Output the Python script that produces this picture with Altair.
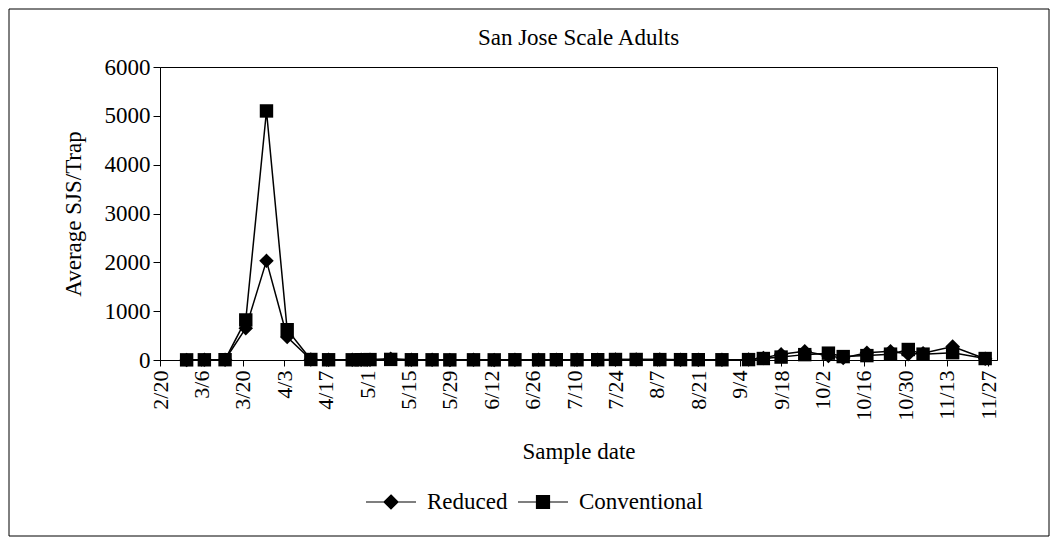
import altair as alt
import pandas as pd

# ---- data ----
sample_dates = ["3/1", "3/7", "3/14", "3/21", "3/28", "4/4", "4/12", "4/18", "4/26", "4/29",
                "5/2", "5/9", "5/16", "5/23", "5/29", "6/6", "6/13", "6/20", "6/28", "7/4",
                "7/11", "7/18", "7/24", "7/31", "8/8", "8/15", "8/21", "8/29", "9/7", "9/12",
                "9/18", "9/26", "10/4", "10/9", "10/17", "10/25", "10/31", "11/5", "11/15", "11/26"]
reduced = [2, 3, 5, 650, 2030, 470, 8, 4, 3, 5,
           6, 25, 4, 3, 2, 3, 2, 4, 3, 5,
           3, 4, 8, 12, 9, 6, 5, 4, 10, 40,
           120, 180, 80, 40, 150, 180, 120, 140, 275, 25]
conventional = [3, 4, 6, 820, 5100, 620, 10, 5, 4, 6,
                8, 12, 5, 4, 3, 4, 3, 5, 4, 6,
                5, 6, 10, 10, 8, 7, 6, 5, 8, 30,
                60, 110, 140, 70, 90, 120, 215, 120, 150, 30]
series_names = ["Reduced", "Conventional"]
x_tick_labels = ["2/20", "3/6", "3/20", "4/3", "4/17", "5/1", "5/15", "5/29", "6/12", "6/26",
                 "7/10", "7/24", "8/7", "8/21", "9/4", "9/18", "10/2", "10/16", "10/30",
                 "11/13", "11/27"]
y_ticks = [0, 1000, 2000, 3000, 4000, 5000, 6000]
YEAR = 2001
FONT = "Liberation Serif"


def iso(md):
    m, d = md.split("/")
    return f"{YEAR}-{int(m):02d}-{int(d):02d}"


def dt(md):
    m, d = md.split("/")
    return alt.DateTime(year=YEAR, month=int(m), date=int(d), utc=True)


rows = []
for name, vals in zip(series_names, [reduced, conventional]):
    for md, v in zip(sample_dates, vals):
        rows.append({"date": iso(md), "value": v, "series": name})
df = pd.DataFrame(rows)

x_enc = alt.X(
    "date:T",
    title="Sample date",
    scale=alt.Scale(type="utc", domain=[dt("2/20"), dt("11/30")], nice=False),
    axis=alt.Axis(
        values=[dt(t) for t in x_tick_labels],
        format="%-m/%-d",
        labelAngle=270,
        labelFont=FONT, labelFontSize=22, labelColor="black",
        tickSize=6, tickColor="black", domainColor="black",
        labelPadding=4, labelOverlap=False, grid=False,
        titleFont=FONT, titleFontSize=23, titleFontWeight="normal", titleColor="black",
        titlePadding=20,
    ),
)
y_enc = alt.Y(
    "value:Q",
    title="Average SJS/Trap",
    scale=alt.Scale(domain=[0, 6000], nice=False),
    axis=alt.Axis(
        values=y_ticks, format="d",
        labelFont=FONT, labelFontSize=23, labelColor="black",
        tickSize=7, tickColor="black", domainColor="black",
        labelPadding=3, grid=False,
        titleFont=FONT, titleFontSize=23, titleFontWeight="normal", titleColor="black",
        titlePadding=19,
    ),
)

base = alt.Chart(df)

lines = base.mark_line(color="black", strokeWidth=1.5).encode(
    x=x_enc, y=y_enc, detail="series:N"
)

points = base.mark_point(filled=True, color="black", opacity=1).encode(
    x=x_enc, y=y_enc,
    shape=alt.Shape("series:N", scale=alt.Scale(domain=series_names, range=["diamond", "square"]), legend=None),
    size=alt.Size("series:N", scale=alt.Scale(domain=series_names, range=[210, 180]), legend=None),
)

# legend: one single-entry legend per series, symbol = line with the series marker
legend_paths = [
    "M-1,0L1,0M0,-0.28L0.28,0L0,0.28L-0.28,0Z",
    "M-1,0L1,0M-0.26,-0.26L0.26,-0.26L0.26,0.26L-0.26,0.26Z",
]
legend_x = [205, 357]
LEGEND_Y = 409


def legend_common(i):
    return dict(
        title=None, orient="none", direction="horizontal",
        legendX=legend_x[i], legendY=LEGEND_Y, padding=0,
        symbolType=legend_paths[i], symbolSize=2500,
        symbolFillColor="black", symbolStrokeColor="black",
        symbolStrokeWidth=1.2, symbolOpacity=1,
        labelFont=FONT, labelFontSize=23, labelColor="black", labelOffset=10,
    )


leg_reduced = base.transform_filter(alt.datum.series == series_names[0]).mark_point(
    filled=True, color="black", fill="black", opacity=0
).encode(
    x=x_enc, y=y_enc,
    fill=alt.Fill("series:N", scale=alt.Scale(domain=[series_names[0]], range=["black"]),
                  legend=alt.Legend(**legend_common(0))),
)
leg_conv = base.transform_filter(alt.datum.series == series_names[1]).mark_point(
    filled=True, color="black", fill="black", opacity=0
).encode(
    x=x_enc, y=y_enc,
    stroke=alt.Stroke("series:N", scale=alt.Scale(domain=[series_names[1]], range=["black"]),
                      legend=alt.Legend(**legend_common(1))),
)

frame = alt.Chart(alt.Data(values=[{"a": 1}])).mark_rect(
    fill=None, stroke="black", strokeWidth=1
).encode(
    x=alt.value(-151), x2=alt.value(889), y=alt.value(-58), y2=alt.value(469)
)

chart = alt.layer(frame, lines, points, leg_reduced, leg_conv).properties(
    width=837, height=293,
    autosize=alt.AutoSizeParams(type="none"),
    padding={"left": 152, "top": 59, "right": 53, "bottom": 177},
    background="white",
    title=alt.Title("San Jose Scale Adults", font=FONT, fontSize=23, fontWeight="normal",
                    color="black", anchor="middle", offset=0, dy=41),
).configure_view(stroke="black", strokeWidth=1)

chart.save("out.html", embed_options={"renderer": "svg", "actions": False})
